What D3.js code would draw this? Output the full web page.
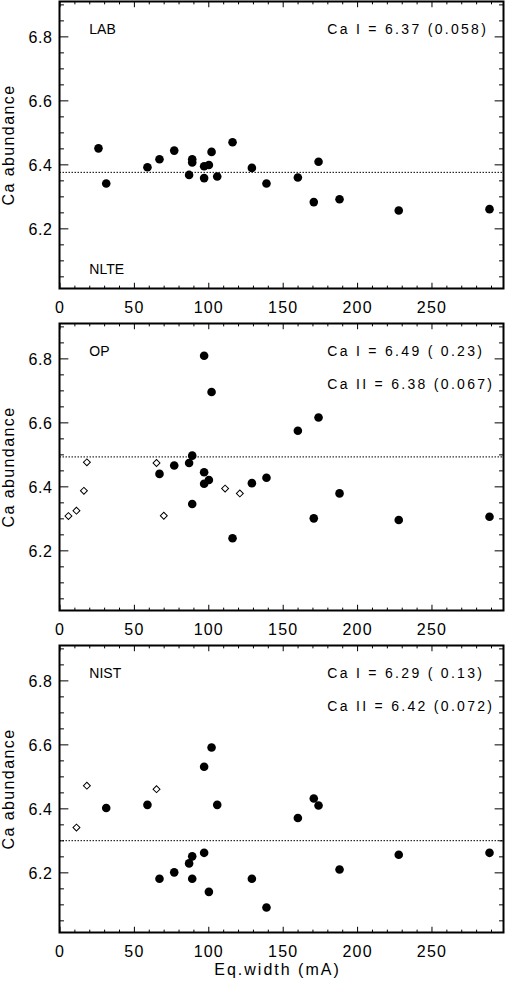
<!DOCTYPE html>
<html>
<head>
<meta charset="utf-8">
<script src="https://cdn.jsdelivr.net/npm/d3@7"></script>
<style>
  body { margin: 0; background: #fff; }
  svg { display: block; font-family: "Liberation Sans", Arial, sans-serif; }
  text { white-space: pre; }
</style>
</head>
<body>
<script>
// equivalent widths (mA) and Ca abundances
var labEW   = [26.2, 31.4, 59.1, 67.2, 77.1, 87.1, 89.2, 89.2, 97.2, 97.2, 100.4, 102.2, 106.0, 116.3, 129.3, 139.1, 160.2, 170.9, 174.1, 188.2, 228.0, 289.0];
var labCaI  = [6.450, 6.340, 6.391, 6.416, 6.443, 6.367, 6.416, 6.406, 6.357, 6.394, 6.398, 6.439, 6.362, 6.469, 6.389, 6.340, 6.359, 6.282, 6.408, 6.291, 6.256, 6.260];

var opEWI   = [67.2, 77.1, 87.1, 89.2, 89.2, 97.2, 97.2, 97.2, 100.4, 102.2, 116.3, 129.3, 139.1, 160.2, 170.9, 174.1, 188.2, 228.0, 289.0];
var opCaI   = [6.439, 6.465, 6.473, 6.496, 6.345, 6.808, 6.444, 6.408, 6.420, 6.695, 6.238, 6.410, 6.427, 6.574, 6.300, 6.615, 6.378, 6.295, 6.305];
var opEWII  = [6.0, 11.4, 16.4, 18.4, 65.2, 70.1, 111.3, 121.2];
var opCaII  = [6.307, 6.324, 6.386, 6.475, 6.473, 6.308, 6.393, 6.378];

var nistEWI  = [31.4, 59.1, 67.2, 77.1, 87.1, 89.2, 89.2, 97.2, 97.2, 100.4, 102.2, 106.0, 129.3, 139.1, 160.2, 170.9, 174.1, 188.2, 228.0, 289.0];
var nistCaI  = [6.401, 6.411, 6.180, 6.200, 6.228, 6.250, 6.180, 6.530, 6.261, 6.139, 6.590, 6.411, 6.180, 6.090, 6.370, 6.431, 6.409, 6.209, 6.255, 6.261];
var nistEWII = [11.4, 18.4, 65.2];
var nistCaII = [6.340, 6.471, 6.460];

var panelNames = ["LAB", "OP", "NIST"];
var meanCaI = [6.375, 6.492, 6.299];
var statLines = [
    ["Ca I = 6.37 (0.058)"],
    ["Ca I = 6.49 ( 0.23)", "Ca II = 6.38 (0.067)"],
    ["Ca I = 6.29 ( 0.13)", "Ca II = 6.42 (0.072)"]
];
var xTicks = [0, 50, 100, 150, 200, 250];
var yTicks = [6.2, 6.4, 6.6, 6.8];

function zip(xs, ys) {
    return xs.map(function(v, i) { return [v, ys[i]]; });
}

var panels = [
    { ion1: zip(labEW, labCaI), ion2: [] },
    { ion1: zip(opEWI, opCaI), ion2: zip(opEWII, opCaII) },
    { ion1: zip(nistEWI, nistCaI), ion2: zip(nistEWII, nistCaII) }
];

//frame dimensions
var width = 505,
    height = 985,
    left = 59.5,
    right = 503.5,
    plotH = 287,
    step = 322,
    top0 = 1.5;

var svg = d3.select("body")
    .append("svg")
    .attr("width", width)
    .attr("height", height);

var x = d3.scaleLinear()
    .domain([0, 298.4])
    .range([left, right]);

var xMinor = d3.range(0, 300, 10).filter(function(v) { return v % 50 != 0; });
var yMinor = d3.range(6.05, 6.91, 0.05).filter(function(v) {
    return Math.abs(Math.round(v * 5) - v * 5) > 0.01;
});

var xLenMaj = 0.02 * plotH,
    yLenMaj = 0.02 * (right - left);

panels.forEach(function(p, i) {
    var top = top0 + i * step,
        bottom = top + plotH;

    var y = d3.scaleLinear()
        .domain([6.012, 6.909])
        .range([bottom, top]);

    var g = svg.append("g").attr("class", "panel");

    //ticks, all pointing inward
    function addAxis(axis, tx, ty, labels) {
        var a = g.append("g")
            .attr("transform", "translate(" + tx + "," + ty + ")")
            .call(axis);
        a.select(".domain").remove();
        a.selectAll("line").attr("stroke", "#000").attr("stroke-width", 1);
        if (!labels) a.selectAll("text").remove();
        return a;
    }

    var bx = addAxis(d3.axisBottom(x).tickValues(xTicks).tickSize(-xLenMaj).tickPadding(13).tickFormat(d3.format("d")), 0, bottom, true);
    bx.selectAll("text")
        .attr("fill", "#000")
        .style("font-size", "16px")
        .style("letter-spacing", "1.2px");
    addAxis(d3.axisBottom(x).tickValues(xMinor).tickSize(-xLenMaj / 2).tickFormat(""), 0, bottom, false);
    addAxis(d3.axisTop(x).tickValues(xTicks).tickSize(-xLenMaj), 0, top, false);
    addAxis(d3.axisTop(x).tickValues(xMinor).tickSize(-xLenMaj / 2), 0, top, false);

    var ly = addAxis(d3.axisLeft(y).tickValues(yTicks).tickSize(-yLenMaj).tickPadding(7).tickFormat(d3.format(".1f")), left, 0, true);
    ly.selectAll("text")
        .attr("fill", "#000")
        .attr("dy", "0.36em")
        .style("font-size", "16px")
        .style("letter-spacing", "0.6px");
    addAxis(d3.axisLeft(y).tickValues(yMinor).tickSize(-yLenMaj / 2), left, 0, false);
    addAxis(d3.axisRight(y).tickValues(yTicks).tickSize(-yLenMaj), right, 0, false);
    addAxis(d3.axisRight(y).tickValues(yMinor).tickSize(-yLenMaj / 2), right, 0, false);

    //dotted mean line
    g.append("line")
        .attr("x1", left)
        .attr("x2", right)
        .attr("y1", y(meanCaI[i]))
        .attr("y2", y(meanCaI[i]))
        .attr("stroke", "#000")
        .attr("stroke-width", 1)
        .attr("stroke-dasharray", "1.5,1.5");

    //Ca I lines: filled circles
    g.selectAll(".ion1")
        .data(p.ion1)
        .enter()
        .append("circle")
        .attr("class", "ion1")
        .attr("cx", function(d) { return x(d[0]); })
        .attr("cy", function(d) { return y(d[1]); })
        .attr("r", 4.3)
        .attr("fill", "#000");

    //Ca II lines: open diamonds
    var diamond = d3.symbol().type(d3.symbolSquare).size(24);
    g.selectAll(".ion2")
        .data(p.ion2)
        .enter()
        .append("path")
        .attr("class", "ion2")
        .attr("d", diamond)
        .attr("transform", function(d) {
            return "translate(" + x(d[0]) + "," + y(d[1]) + ") rotate(45)";
        })
        .attr("fill", "#fff")
        .attr("stroke", "#000")
        .attr("stroke-width", 1);

    //frame
    g.append("rect")
        .attr("x", left)
        .attr("y", top)
        .attr("width", right - left)
        .attr("height", plotH)
        .attr("fill", "none")
        .attr("stroke", "#000")
        .attr("stroke-width", 2);

    //labels
    g.append("text")
        .attr("x", 89.3)
        .attr("y", top + 32.5)
        .style("font-size", "14px")
        .text(panelNames[i]);

    if (i == 0) {
        g.append("text")
            .attr("x", 89.3)
            .attr("y", bottom - 14.5)
            .style("font-size", "14px")
            .text("NLTE");
    }

    statLines[i].forEach(function(s, k) {
        g.append("text")
            .attr("x", 327.3)
            .attr("y", top + 32.5 + k * 32.5)
            .style("font-size", "14px")
            .style("letter-spacing", "2.3px")
            .text(s);
    });

    g.append("text")
        .attr("transform", "translate(13.5," + (top + plotH / 2) + ") rotate(-90)")
        .attr("text-anchor", "middle")
        .style("font-size", "16px")
        .style("letter-spacing", "1.4px")
        .text("Ca abundance");
});

svg.append("text")
    .attr("x", (left + right) / 2 - 4)
    .attr("y", 975)
    .attr("text-anchor", "middle")
    .style("font-size", "16px")
    .style("letter-spacing", "2px")
    .text("Eq.width (mA)");
</script>
</body>
</html>
